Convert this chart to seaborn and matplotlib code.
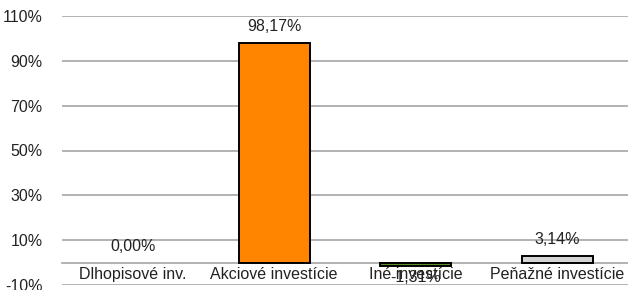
import matplotlib
matplotlib.use('Agg')
from matplotlib import pyplot as plt
import seaborn as sns
import numpy as np

# data
categories = ['Dlhopisové inv.', 'Akciové investície', 'Iné investície', 'Peňažné investície']
values = [0.00, 98.17, -1.31, 3.14]
colors = ['#1f4e9a', '#ff8400', '#5b8c2a', '#d4d4d4']
y_ticks = [-10, 10, 30, 50, 70, 90, 110]

sns.set_style('white')
plt.rcParams['font.family'] = ['Liberation Sans', 'DejaVu Sans']
FS = 11.5

fig = plt.figure(figsize=(6.28, 2.90), dpi=100)
ax = fig.add_axes([62 / 628, 1 - 285 / 290, 1 - 62 / 628, (285 - 16) / 290])

sns.barplot(x=categories, y=values, hue=categories, palette=colors, legend=False,
            width=0.5, edgecolor='black', linewidth=1.4, saturation=1, ax=ax, zorder=3)

# no outline on empty bars
for p in ax.patches:
    if p.get_height() == 0:
        p.set_linewidth(0)

ax.set_ylim(-10, 110)
ax.set_xlim(-0.5, len(categories) - 0.5)
ax.set_yticks(y_ticks)
ax.set_yticklabels([f'{t}%' for t in y_ticks], fontsize=FS, color='#222222')
ax.yaxis.grid(True, color='#a6a6a6', linewidth=1.2, zorder=0)
ax.tick_params(axis='y', length=0, pad=14)

# x axis sits at zero, ticks between categories
for s in ['left', 'right', 'top']:
    ax.spines[s].set_visible(False)
ax.spines['bottom'].set_position(('data', 0))
ax.spines['bottom'].set_color('#a6a6a6')
ax.spines['bottom'].set_linewidth(1.2)
ax.set_xticks(range(len(categories)))
ax.set_xticklabels(categories, fontsize=FS, color='#222222')
ax.set_xticks(np.arange(-0.5, len(categories)), minor=True)
ax.tick_params(axis='x', which='major', length=0, pad=3)
ax.tick_params(axis='x', which='minor', length=5, width=1.2, color='#a6a6a6', direction='out')
ax.set_xlabel('')
ax.set_ylabel('')

# value labels
for i, v in enumerate(values):
    txt = f'{v:.2f}%'.replace('.', ',')
    off = 6 if v >= 0 else -3
    ax.annotate(txt, (i, v), xytext=(0, off), textcoords='offset points',
                ha='center', va='bottom' if v >= 0 else 'top',
                fontsize=FS, color='#222222', zorder=5)

plt.savefig('out.png', dpi=100)
